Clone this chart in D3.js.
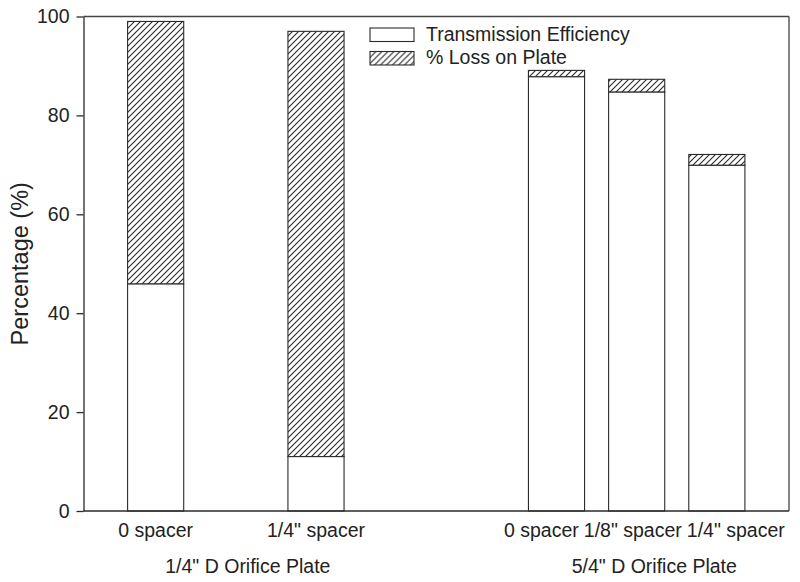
<!DOCTYPE html>
<html>
<head>
<meta charset="utf-8">
<script src="https://cdn.jsdelivr.net/npm/d3@7"></script>
<style>
  html, body { margin: 0; padding: 0; background: #fff; }
  svg { display: block; }
  text { font-family: "Liberation Sans", Arial, Helvetica, sans-serif; fill: #222; }
</style>
</head>
<body>
<svg id="chart" width="800" height="582"></svg>
<script>
// ---- data ----
const categories = ["0 spacer", "1/4\" spacer", "0 spacer", "1/8\" spacer", "1/4\" spacer"];
const barPositions = [1, 3, 6, 7, 8];
const transmission = [45.9, 11.0, 87.8, 84.7, 69.9];
const lossOnPlate = [53.1, 86.0, 1.3, 2.6, 2.2];
const groupNames = ["1/4\" D Orifice Plate", "5/4\" D Orifice Plate"];
const groupPositions = [2.15, 7.22];
const yTicks = [0, 20, 40, 60, 80, 100];
const seriesNames = ["Transmission Efficiency", "% Loss on Plate"];

// ---- layout ----
const W = 800, H = 582;
const margin = { left: 83.5, right: 11, top: 16.5, bottom: 71 };
const svg = d3.select("#chart");
const ink = "#2a2a2a";

const x = d3.scaleLinear().domain([0.1, 8.9]).range([margin.left, W - margin.right]);
const y = d3.scaleLinear().domain([0, 100]).range([H - margin.bottom, margin.top]);
const barW = x(0.7) - x(0);

// hatch pattern
const defs = svg.append("defs");
const pat = defs.append("pattern")
  .attr("id", "hatch").attr("patternUnits", "userSpaceOnUse")
  .attr("width", 6).attr("height", 6);
pat.append("rect").attr("width", 6).attr("height", 6).attr("fill", "#fff");
pat.append("path")
  .attr("d", "M-1,1 l2,-2 M0,6 l6,-6 M5,7 l2,-2")
  .attr("stroke", ink).attr("stroke-width", 1.1);

// frame (top and right)
svg.append("line").attr("x1", x.range()[0]).attr("x2", x.range()[1])
  .attr("y1", y(100)).attr("y2", y(100)).attr("stroke", "#444").attr("stroke-width", 1.3);
svg.append("line").attr("x1", x.range()[1]).attr("x2", x.range()[1])
  .attr("y1", y(100)).attr("y2", y(0)).attr("stroke", "#444").attr("stroke-width", 1.3);

// bars
const data = categories.map((c, i) => ({
  c, pos: barPositions[i], t: transmission[i], l: lossOnPlate[i]
}));
const bars = svg.append("g");
bars.selectAll("rect.loss").data(data).join("rect")
  .attr("class", "loss")
  .attr("x", d => x(d.pos) - barW / 2)
  .attr("width", barW)
  .attr("y", d => y(d.t + d.l))
  .attr("height", d => y(d.t) - y(d.t + d.l))
  .attr("fill", "url(#hatch)").attr("stroke", ink).attr("stroke-width", 1.1);
bars.selectAll("rect.trans").data(data).join("rect")
  .attr("class", "trans")
  .attr("x", d => x(d.pos) - barW / 2)
  .attr("width", barW)
  .attr("y", d => y(d.t))
  .attr("height", d => y(0) - y(d.t))
  .attr("fill", "#fff").attr("stroke", ink).attr("stroke-width", 1.1);

// y axis
const yAxis = svg.append("g")
  .attr("transform", `translate(${margin.left},0)`)
  .call(d3.axisLeft(y).tickValues(yTicks).tickSize(7).tickPadding(7).tickSizeOuter(0));
yAxis.select(".domain").attr("stroke", ink).attr("stroke-width", 1.3);
yAxis.selectAll(".tick line").attr("stroke", ink).attr("stroke-width", 1.3);
yAxis.selectAll(".tick text").attr("font-size", 19.5)
  .attr("font-family", "'Liberation Sans', Arial, sans-serif").attr("fill", "#222");

// x axis line (no ticks)
svg.append("line").attr("x1", x.range()[0]).attr("x2", x.range()[1])
  .attr("y1", y(0)).attr("y2", y(0)).attr("stroke", ink).attr("stroke-width", 1.3);

// category labels with overlap relaxation
const catFont = 19.5;
const catLabels = svg.append("g").selectAll("text").data(data).join("text")
  .attr("text-anchor", "middle")
  .attr("font-size", catFont)
  .attr("y", y(0) + 26)
  .attr("x", d => x(d.pos))
  .text(d => d.c);
const items = [];
catLabels.each(function (d) {
  items.push({ node: this, cx: x(d.pos), w: this.getComputedTextLength() });
});
const gap = 5;
for (let it = 0; it < 200; it++) {
  let moved = false;
  for (let i = 0; i < items.length - 1; i++) {
    const a = items[i], b = items[i + 1];
    const ov = (a.cx + a.w / 2 + gap) - (b.cx - b.w / 2);
    if (ov > 0.01) { a.cx -= ov / 2; b.cx += ov / 2; moved = true; }
  }
  if (!moved) break;
}
items.forEach(o => d3.select(o.node).attr("x", o.cx));

// group labels
svg.append("g").selectAll("text").data(groupNames).join("text")
  .attr("text-anchor", "middle")
  .attr("font-size", 19.5)
  .attr("x", (d, i) => x(groupPositions[i]))
  .attr("y", y(0) + 62)
  .text(d => d);

// y label
svg.append("text")
  .attr("transform", `translate(28,${(y(0) + y(100)) / 2}) rotate(-90)`)
  .attr("text-anchor", "middle")
  .attr("font-size", 23.5)
  .text("Percentage (%)");

// legend
const legend = svg.append("g").attr("transform", "translate(370,28)");
seriesNames.forEach((name, i) => {
  const g = legend.append("g").attr("transform", `translate(0,${i * 23.5})`);
  g.append("rect").attr("x", 0).attr("y", 0).attr("width", 44).attr("height", 13.5)
    .attr("fill", i === 0 ? "#fff" : "url(#hatch)")
    .attr("stroke", ink).attr("stroke-width", 1.1);
  g.append("text").attr("x", 56).attr("y", 12.5)
    .attr("font-size", 19.5).text(name);
});
</script>
</body>
</html>
